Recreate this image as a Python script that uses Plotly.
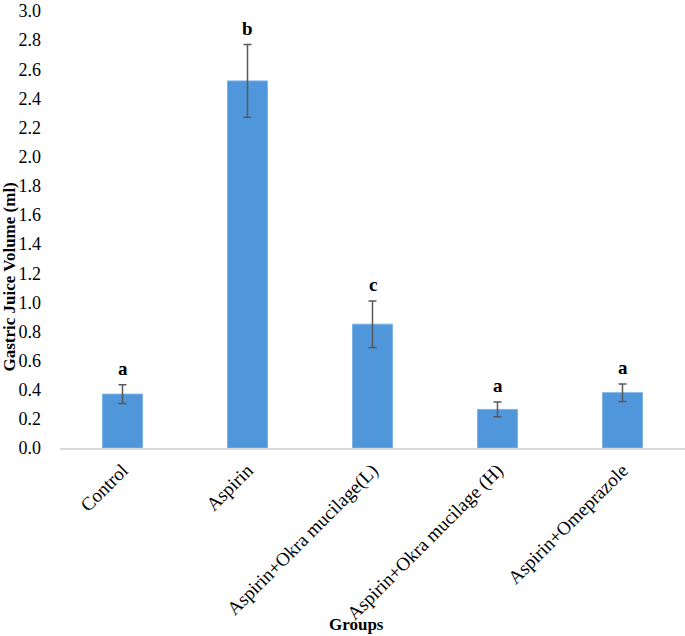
import plotly.graph_objects as go

groups = ["Control", "Aspirin", "Aspirin+Okra mucilage(L)", "Aspirin+Okra mucilage (H)", "Aspirin+Omeprazole"]
means = [0.37, 2.52, 0.85, 0.265, 0.38]
errors = [0.065, 0.25, 0.16, 0.05, 0.06]
letters = ["a", "b", "c", "a", "a"]
y_ticks = [0.0, 0.2, 0.4, 0.6, 0.8, 1.0, 1.2, 1.4, 1.6, 1.8, 2.0, 2.2, 2.4, 2.6, 2.8, 3.0]

font_family = "Liberation Serif"

fig = go.Figure()
fig.add_trace(go.Bar(
    x=groups, y=means,
    marker=dict(color="#4f96da", line=dict(color="#7db3e6", width=1)),
    error_y=dict(type="data", array=errors, visible=True, color="#595959", thickness=1.5, width=4),
))

for g, m, e, l in zip(groups, means, errors, letters):
    fig.add_annotation(x=g, y=m + e, text="<b>%s</b>" % l, showarrow=False,
                       yanchor="bottom", yshift=4,
                       font=dict(family=font_family, size=19, color="black"))

fig.add_annotation(xref="paper", yref="paper", x=-0.08, y=0.39, text="<b>Gastric Juice Volume (ml)</b>",
                   textangle=-90, showarrow=False, xanchor="center", yanchor="middle",
                   font=dict(family=font_family, size=17, color="black"))
fig.add_annotation(xref="paper", yref="paper", x=0.475, y=-0.405, text="<b>Groups</b>",
                   showarrow=False, xanchor="center", yanchor="middle",
                   font=dict(family=font_family, size=17, color="black"))

fig.update_layout(
    width=685, height=636,
    margin=dict(l=60, r=0, t=11, b=188),
    paper_bgcolor="white", plot_bgcolor="white",
    showlegend=False,
    bargap=0.68,
    font=dict(family=font_family, color="black"),
)
fig.update_xaxes(
    tickangle=-45, tickfont=dict(family=font_family, size=19, color="black"),
    showline=True, linecolor="#d9d9d9", linewidth=1.5, ticks="",
    showgrid=False, automargin=False, ticklabelstandoff=2,
)
fig.update_yaxes(
    range=[0, 3.0], tickvals=y_ticks, ticktext=["%.1f" % v for v in y_ticks],
    tickfont=dict(family=font_family, size=18, color="black"),
    showgrid=False, zeroline=False, showline=False, ticks="",
    automargin=False, ticklabeloverflow="allow", ticklabelstandoff=18,
)

fig.write_html("out.html", config={"displayModeBar": False},
               post_script="document.body.style.margin='0';")
